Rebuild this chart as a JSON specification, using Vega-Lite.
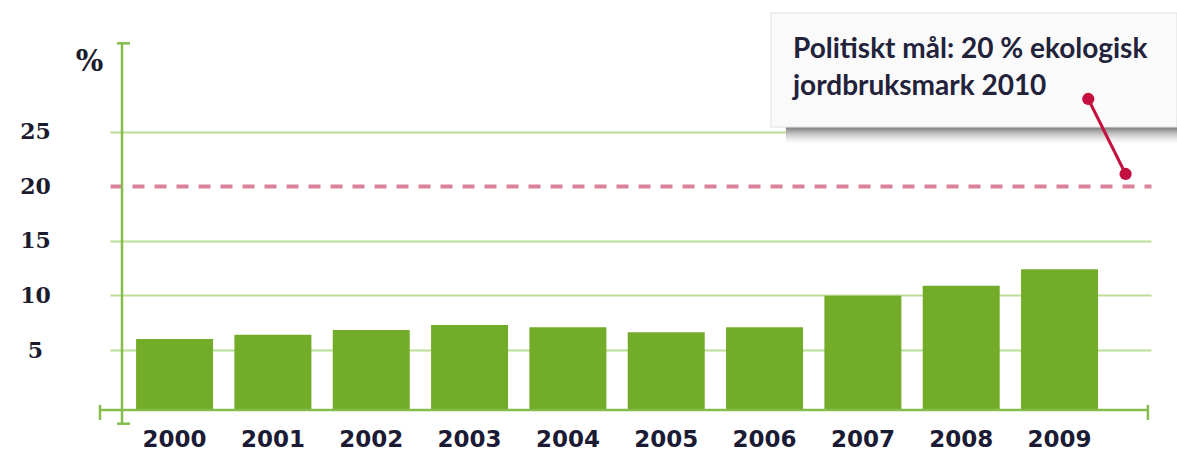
{
  "$schema": "https://vega.github.io/schema/vega-lite/v6.json",
  "width": 1041,
  "height": 383,
  "autosize": {"type": "none"},
  "padding": {"left": 110, "top": 42, "right": 26, "bottom": 27},
  "background": "white",
  "config": {"view": {"stroke": null}},
  "data": {
    "values": [
      {"year": "2000", "share": 6.0},
      {"year": "2001", "share": 6.4},
      {"year": "2002", "share": 6.83},
      {"year": "2003", "share": 7.29},
      {"year": "2004", "share": 7.08},
      {"year": "2005", "share": 6.62},
      {"year": "2006", "share": 7.08},
      {"year": "2007", "share": 9.98},
      {"year": "2008", "share": 10.89},
      {"year": "2009", "share": 12.4}
    ]
  },
  "layer": [
    {
      "mark": {"type": "bar", "color": "#73ac28"},
      "encoding": {
        "x": {
          "field": "year",
          "type": "ordinal",
          "scale": {"paddingInner": 0.217, "paddingOuter": 0.402, "align": 0.33},
          "axis": {
            "title": null,
            "domain": false,
            "ticks": false,
            "tickSize": 0,
            "grid": false,
            "labelAngle": 0,
            "labelPadding": 3,
            "labelFont": "DejaVu Sans",
            "labelFontSize": 23,
            "labelFontWeight": "bold",
            "labelColor": "#1b1b35"
          }
        },
        "y": {
          "field": "share",
          "type": "quantitative",
          "scale": {"domain": [-1.87, 33.22], "nice": false, "zero": false},
          "axis": {
            "title": "%",
            "values": [5, 10, 15, 20, 25],
            "domain": false,
            "ticks": false,
            "tickSize": 0,
            "labelPadding": 75,
            "labelAlign": "center",
            "labelBaseline": "middle",
            "labelFont": "DejaVu Serif",
            "labelFontSize": 22,
            "labelFontWeight": "bold",
            "labelColor": "#1b1b2e",
            "grid": true,
            "gridColor": {"condition": {"test": "datum.value === 20", "value": "#db829b"}, "value": "#bcdd98"},
            "gridWidth": {"condition": {"test": "datum.value === 20", "value": 4}, "value": 2},
            "gridDash": {"condition": {"test": "datum.value === 20", "value": [12, 10]}, "value": []},
            "titleAngle": 0,
            "titleX": -21,
            "titleY": 19,
            "titleAlign": "center",
            "titleBaseline": "middle",
            "titleFont": "DejaVu Serif",
            "titleFontSize": 29,
            "titleFontWeight": "bold",
            "titleColor": "#1b1b2e"
          }
        },
        "y2": {"datum": -0.5}
      }
    },
    {
      "data": {"values": [{}]},
      "mark": {"type": "rule", "color": "#84bd4c", "strokeWidth": 2.5},
      "encoding": {
        "x": {"datum": "2000", "type": "ordinal", "bandPosition": -0.183},
        "y": {"datum": -1.87},
        "y2": {"datum": 33.22}
      }
    },
    {
      "data": {"values": [{}]},
      "mark": {"type": "rule", "color": "#84bd4c", "strokeWidth": 2.5},
      "encoding": {
        "x": {"datum": "2000", "type": "ordinal", "bandPosition": -0.248},
        "x2": {"datum": "2000", "bandPosition": -0.079},
        "y": {"datum": 33.1}
      }
    },
    {
      "data": {"values": [{}]},
      "mark": {"type": "rule", "color": "#84bd4c", "strokeWidth": 2.5},
      "encoding": {
        "x": {"datum": "2000", "type": "ordinal", "bandPosition": -0.248},
        "x2": {"datum": "2000", "bandPosition": -0.079},
        "y": {"datum": -1.75}
      }
    },
    {
      "data": {"values": [{}]},
      "mark": {"type": "rule", "color": "#84bd4c", "strokeWidth": 2.5},
      "encoding": {
        "x": {"datum": "2000", "type": "ordinal", "bandPosition": -0.469},
        "x2": {"datum": "2009", "bandPosition": 1.648},
        "y": {"datum": -0.5}
      }
    },
    {
      "data": {"values": [{}]},
      "mark": {"type": "rule", "color": "#84bd4c", "strokeWidth": 2.5},
      "encoding": {
        "x": {"datum": "2000", "type": "ordinal", "bandPosition": -0.469},
        "y": {"datum": -0.04},
        "y2": {"datum": -1.41}
      }
    },
    {
      "data": {"values": [{}]},
      "mark": {"type": "rule", "color": "#84bd4c", "strokeWidth": 2.5},
      "encoding": {
        "x": {"datum": "2009", "type": "ordinal", "bandPosition": 1.648},
        "y": {"datum": -0.04},
        "y2": {"datum": -1.41}
      }
    },
    {
      "data": {"values": [{}]},
      "mark": {
        "type": "rect",
        "opacity": 1,
        "color": {
          "gradient": "linear",
          "x1": 0, "y1": 0, "x2": 0, "y2": 1,
          "stops": [
            {"offset": 0, "color": "#8c8c8c"},
            {"offset": 0.42, "color": "#8a8a8a"},
            {"offset": 0.6, "color": "#bdbdbd"},
            {"offset": 0.8, "color": "#e8e8e8"},
            {"offset": 1, "color": "#ffffff"}
          ]
        }
      },
      "encoding": {
        "x": {"datum": "2007", "type": "ordinal", "bandPosition": -0.5},
        "x2": {"datum": "2009", "bandPosition": 2.03},
        "y": {"datum": 23.9},
        "y2": {"datum": 26.3}
      }
    },
    {
      "data": {"values": [{}]},
      "mark": {"type": "rect", "fill": "#fafafa", "stroke": "#e2e2e2", "strokeWidth": 1},
      "encoding": {
        "x": {"datum": "2007", "type": "ordinal", "bandPosition": -0.694},
        "x2": {"datum": "2009", "bandPosition": 2.025},
        "y": {"datum": 25.43},
        "y2": {"datum": 35.88}
      }
    },
    {
      "data": {"values": [{}]},
      "mark": {
        "type": "text",
        "text": ["Politiskt mål: 20 % ekologisk", "jordbruksmark 2010"],
        "align": "left",
        "baseline": "alphabetic",
        "lineHeight": 37,
        "font": "Lato",
        "fontSize": 28,
        "fontWeight": "bold",
        "color": "#22223a"
      },
      "encoding": {
        "x": {"datum": "2007", "type": "ordinal", "bandPosition": -0.408},
        "y": {"datum": 31.75}
      }
    },
    {
      "data": {"values": [{}]},
      "mark": {"type": "rule", "color": "#c4103f", "strokeWidth": 3},
      "encoding": {
        "x": {"datum": "2009", "type": "ordinal", "bandPosition": 0.873},
        "x2": {"datum": "2009", "bandPosition": 1.358},
        "y": {"datum": 28.0},
        "y2": {"datum": 21.13}
      }
    },
    {
      "data": {"values": [{}]},
      "mark": {"type": "circle", "color": "#c4103f", "opacity": 1, "size": 150},
      "encoding": {
        "x": {"datum": "2009", "type": "ordinal", "bandPosition": 0.873},
        "y": {"datum": 28.0}
      }
    },
    {
      "data": {"values": [{}]},
      "mark": {"type": "circle", "color": "#c4103f", "opacity": 1, "size": 150},
      "encoding": {
        "x": {"datum": "2009", "type": "ordinal", "bandPosition": 1.358},
        "y": {"datum": 21.13}
      }
    }
  ]
}
